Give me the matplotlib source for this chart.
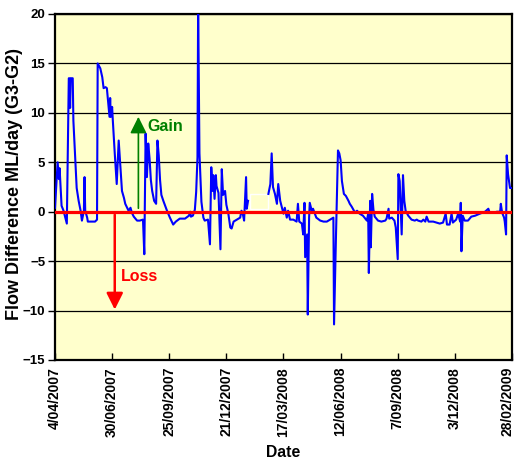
import numpy as np
import pandas as pd
import matplotlib
matplotlib.use("Agg")
import matplotlib.pyplot as plt
import matplotlib.transforms as mtransforms
from matplotlib.patches import Rectangle

plt.rcParams['font.family'] = ['Liberation Sans', 'DejaVu Sans']
plt.rcParams['font.weight'] = 'bold'

# Data: days since 4/04/2007 and flow difference (ML/day)
start_date = pd.Timestamp("2007-04-04")
days = [0, 4, 6, 7, 10, 13, 18, 21, 22, 23, 24, 27, 28, 31, 33, 36, 39, 41, 44, 45,
        46, 49, 50, 61, 64, 65, 69, 72, 74, 77, 79, 81, 83, 84, 85, 87, 88, 91, 94, 97,
        99, 102, 105, 107, 112, 115, 117, 120, 125, 129, 134, 136, 138, 140, 142, 144, 146, 148, 151, 154,
        156, 158, 160, 162, 165, 170, 175, 180, 184, 190, 198, 204, 206, 207, 210, 213, 215, 217, 218, 220,
        223, 226, 228, 233, 236, 238, 240, 241, 243, 245, 246, 249, 250, 252, 254, 256, 259, 261, 264, 267,
        269, 272, 277, 282, 284, 286, 288, 291, 292, 294, 300, 325, 328, 330, 332, 335, 338, 340, 343, 348,
        350, 353, 355, 358, 363, 368, 370, 372, 376, 378, 380, 381, 384, 385, 387, 388, 391, 393, 398, 404,
        409, 414, 419, 424, 425, 428, 431, 433, 435, 437, 440, 443, 447, 449, 452, 457, 460, 464, 469, 475,
        477, 478, 480, 481, 483, 485, 487, 492, 497, 503, 505, 508, 509, 513, 517, 519, 522, 523, 525, 528,
        530, 532, 534, 538, 543, 548, 551, 553, 558, 561, 564, 566, 569, 576, 581, 586, 591, 595, 597, 601,
        604, 606, 611, 614, 617, 618, 619, 621, 624, 629, 634, 640, 647, 655, 660, 662, 668, 673, 678, 679,
        681, 684, 685, 687, 688, 690, 693, 695]
flow_diff = [0.4, 5.0, 3.3, 4.4, 0.6, 0.1, -1.2, 13.5, 13.5, 10.5, 13.5, 13.5, 9.2, 5.2, 2.4, 1.1, 0.1, -0.9, 0.1, 3.5,
             0.1, -0.6, -1.0, -1.0, -0.8, 15.0, 14.5, 13.6, 12.5, 12.6, 12.5, 11.0, 9.6, 11.5, 9.6, 10.6, 9.3, 5.9, 2.8, 7.2,
             5.2, 2.1, 1.4, 0.8, 0.1, 0.4, -0.1, -0.5, -0.9, -0.9, -0.8, -4.3, 7.9, 3.5, 6.9, 5.4, 3.2, 2.1, 1.1, 0.8,
             7.2, 5.7, 3.2, 1.7, 1.1, 0.2, -0.6, -1.3, -1.0, -0.7, -0.7, -0.4, 0.0, -0.5, -0.4, 0.2, 2.0, 5.5, 21.0, 5.9,
             1.0, -0.6, -0.9, -0.8, -3.3, 4.5, 2.1, 3.7, 1.3, 3.7, 2.6, 1.9, -0.1, -3.8, 4.3, 1.7, 2.1, 0.7, -0.2, -1.6,
             -1.7, -1.0, -0.8, -0.6, 0.1, -0.2, -0.9, 3.5, 0.3, 1.1, np.nan, 1.8, 2.8, 5.9, 2.5, 1.8, 0.8, 2.8, 1.1, -0.2,
             0.4, -0.6, 0.1, -0.8, -0.8, -1.0, 0.8, -1.0, -1.2, -2.3, 0.9, -4.6, -2.3, -10.4, -0.6, 0.9, 0.1, 0.3, -0.6, -0.9,
             -1.0, -1.0, -0.8, -0.6, -11.4, -2.3, 6.2, 5.9, 5.2, 3.1, 1.8, 1.6, 1.1, 0.8, 0.5, -0.1, 0.1, -0.2, -0.4, -0.9,
             -0.2, -6.2, 1.1, -3.6, 1.8, 0.2, -0.5, -0.9, -1.0, -0.9, -0.7, 0.3, -0.7, -0.6, -0.9, -1.6, -4.8, 3.8, 3.1, -2.3,
             3.7, 1.1, 0.1, -0.4, -0.8, -0.9, -0.8, -0.9, -1.0, -0.8, -1.0, -0.5, -1.0, -1.0, -1.1, -1.2, -1.1, -0.2, -1.3, -1.3,
             -0.2, -1.1, -0.8, -0.2, -1.0, 0.9, -4.0, -0.4, -0.9, -0.9, -0.5, -0.4, -0.2, 0.0, 0.3, -0.1, -0.1, 0.0, 0.0, 0.8,
             -0.1, -0.6, -1.0, -2.3, 5.7, 3.8, 2.4, 2.4]

x_tick_labels = ["4/04/2007", "30/06/2007", "25/09/2007", "21/12/2007", "17/03/2008",
                 "12/06/2008", "7/09/2008", "3/12/2008", "28/02/2009"]
tick_step = 87

dates = start_date + pd.to_timedelta(days, unit="D")
tick_dates = start_date + pd.to_timedelta(np.arange(len(x_tick_labels)) * tick_step, unit="D")
end_date = tick_dates[-1]

fig = plt.figure(figsize=(5.16, 4.59), dpi=100)
ax = fig.add_axes([0.1066, 0.2157, 0.8856, 0.7538])
ax.set_facecolor("#FFFFCC")

# grid lines
for yv in range(-15, 21, 5):
    ax.axhline(yv, color="black", lw=0.9, zorder=1)

ax.plot(dates, flow_diff, color="#0000FF", lw=1.5, zorder=3)
ax.plot([start_date, end_date], [0, 0], color="#FF0000", lw=2.3, zorder=4)

ax.set_xlim(start_date, end_date)
ax.set_ylim(-15, 20)
ax.set_yticks(range(-15, 21, 5))
ax.set_xticks(tick_dates)
ax.set_xticklabels(x_tick_labels, rotation=90, fontsize=10, fontweight="bold")
ax.tick_params(axis="x", direction="in", length=5, width=1, pad=5)
ax.tick_params(axis="y", direction="out", length=5, width=1, pad=2, labelsize=9.5)
for s in ax.spines.values():
    s.set_linewidth(1.6)

# keep the last date label inside the picture
last = ax.get_xticklabels()[-1]
last.set_transform(last.get_transform() + mtransforms.ScaledTranslation(-4 / 100, 0, fig.dpi_scale_trans))

ax.set_ylabel("Flow Difference ML/day (G3-G2)", fontsize=13, fontweight="bold")
ax.yaxis.set_label_coords(-0.071, 0.51)
ax.set_xlabel("Date", fontsize=11.3, fontweight="bold")
ax.xaxis.set_label_coords(0.5, -0.245)

# Gain / Loss arrows
arrow_style = "-|>,head_length=1.0,head_width=0.5"
gain_x = start_date + pd.Timedelta(days=127)
ax.annotate("", xy=(gain_x, 9.6), xytext=(gain_x, 0.35),
            arrowprops=dict(arrowstyle=arrow_style, color="#008000", lw=1.2, shrinkA=0, shrinkB=0),
            zorder=5)
ax.text(start_date + pd.Timedelta(days=140), 8.6, "Gain", color="#008000",
        fontsize=11.5, fontweight="bold", va="center", ha="left")
loss_x = start_date + pd.Timedelta(days=91)
ax.annotate("", xy=(loss_x, -9.9), xytext=(loss_x, -0.3),
            arrowprops=dict(arrowstyle=arrow_style, color="#FF0000", lw=1.8, shrinkA=0, shrinkB=0),
            zorder=5)
ax.text(start_date + pd.Timedelta(days=100), -6.6, "Loss", color="#FF0000",
        fontsize=11.5, fontweight="bold", va="center", ha="left")

# small white box left in the original chart
ax.add_patch(Rectangle((start_date + pd.Timedelta(days=297), 0.3), pd.Timedelta(days=28), 1.5,
                       fill=False, edgecolor="white", lw=1, zorder=2))

fig.savefig("out.png", dpi=100)
